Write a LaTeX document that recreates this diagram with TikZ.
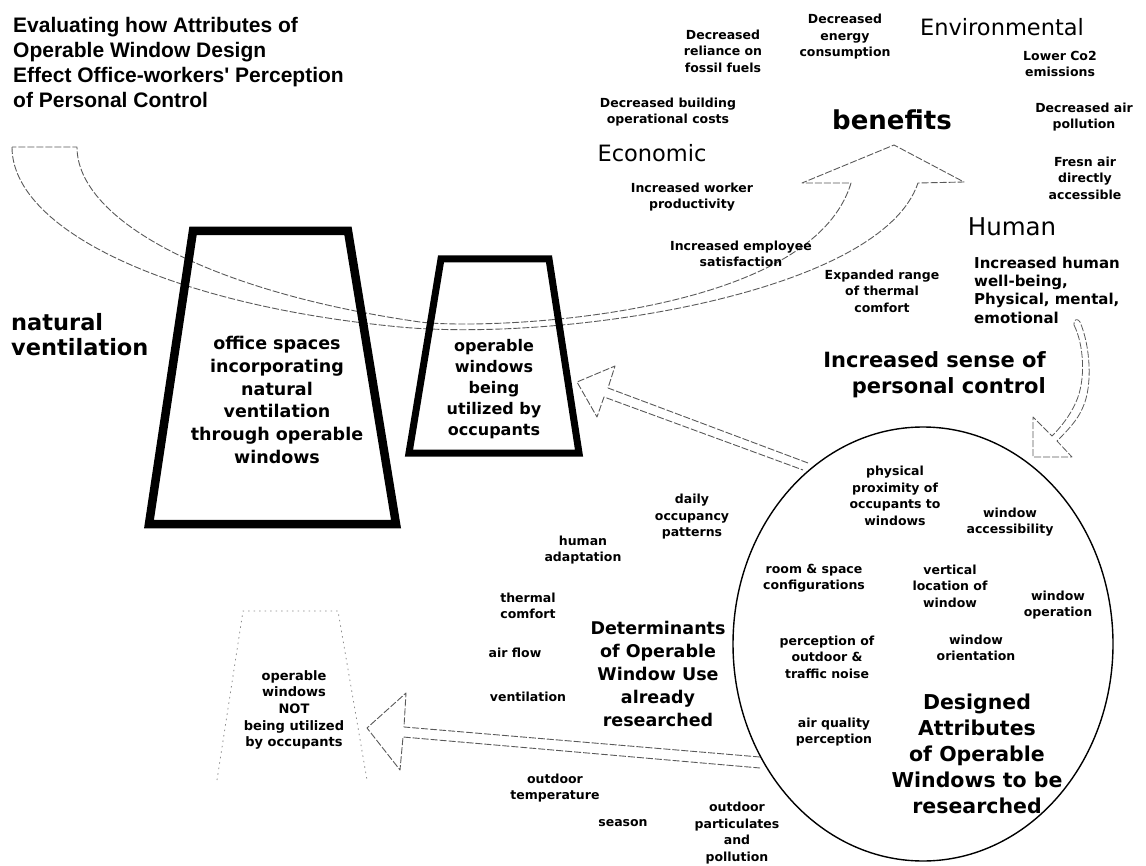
\documentclass[tikz,border=0pt]{standalone}
\usepackage{fontspec}
\usetikzlibrary{shapes.geometric}
\setmainfont{DejaVu Sans}
\newfontfamily\titlefont{Liberation Sans}
\begin{document}
\begin{tikzpicture}[x=1pt,y=-1pt,
  sm/.style={font=\bfseries\fontsize{12.5}{16.5}\selectfont, align=center, inner sep=0pt},
  hum/.style={font=\bfseries\fontsize{15}{18.3}\selectfont, align=left, inner sep=0pt},
  cat/.style={font=\fontsize{22.5}{26}\selectfont, inner sep=0pt},
  ben/.style={font=\bfseries\fontsize{26}{30}\selectfont, inner sep=0pt},
  sense/.style={font=\bfseries\fontsize{21}{26}\selectfont, align=right, inner sep=0pt},
  nv/.style={font=\bfseries\fontsize{22.5}{25}\selectfont, align=left, inner sep=0pt},
  boxa/.style={font=\bfseries\fontsize{17.5}{22.8}\selectfont, align=center, inner sep=0pt},
  boxb/.style={font=\bfseries\fontsize{16}{21}\selectfont, align=center, inner sep=0pt},
  boxc/.style={font=\bfseries\fontsize{13}{16.6}\selectfont, align=center, inner sep=0pt},
  det/.style={font=\bfseries\fontsize{17.5}{23}\selectfont, align=center, inner sep=0pt},
  des/.style={font=\bfseries\fontsize{20.5}{26}\selectfont, align=center, inner sep=0pt},
  ttl/.style={font=\titlefont\bfseries\fontsize{21}{25}\selectfont, align=left, inner sep=0pt},
  hollow/.style={draw=black!65, line width=0.9pt, dash pattern=on 7pt off 2pt, line join=round},
  thick box/.style={draw=black, line join=miter},
  faint/.style={draw=black!45, line width=0.8pt, dash pattern=on 1.5pt off 4pt}
]
\useasboundingbox (0,0) rectangle (1146,866);

% title
\node[ttl, anchor=north west] (title) at (13,17) {Evaluating how Attributes of\\Operable Window Design\\Effect Office-workers' Perception\\of Personal Control};

% big curved hollow arrow (natural ventilation -> benefits)
\coordinate (ntop1) at (12,147);
\coordinate (ntop2) at (77,147);
\coordinate (bhead) at (894,145);
\draw[hollow] (ntop1) .. controls (12,230) and (170,305) .. (400,327)
   .. controls (560,342) and (880,295) .. (918,183)
   -- (964,182) -- (bhead) -- (802,183) -- (851,183)
   .. controls (810,320) and (480,330) .. (420,322)
   .. controls (210,292) and (77,220) .. (ntop2) -- cycle;

% trapezoids
\draw[thick box, line width=8.5pt] (193,231) -- (348,231) -- (396,524) -- (149,524) -- cycle;
\coordinate (trapA) at (272,380);
\draw[thick box, line width=7pt] (441,259) -- (549,259) -- (579,453) -- (409,453) -- cycle;
\coordinate (trapB) at (494,356);
\draw[faint] (217,780) -- (243,611) -- (338,611) -- (367,780);
\coordinate (trapC) at (294,700);

% ellipse
\node[draw=black, line width=1.4pt, ellipse, minimum width=380pt, minimum height=434pt, inner sep=0pt] (ell) at (923,644) {};

% hollow arrow ellipse -> operable windows
\draw[hollow] (808,463) -- (608,388) -- (615,366) -- (577,382) -- (597,417) -- (604,397) -- (803,470);
% hollow arrow ellipse -> NOT utilized
\draw[hollow] (760,757) -- (404,727) -- (406,693) -- (367,728) -- (400,770) -- (403,737) -- (760,768);
% human -> ellipse arrow
\draw[hollow, line width=0.8pt] (1074,325) .. controls (1084,345) and (1086,380) .. (1076,402)
   .. controls (1070,416) and (1060,428) .. (1052,436)
   -- (1033,417) -- (1033,457) -- (1072,457) -- (1057,441)
   .. controls (1066,432) and (1078,420) .. (1083,407)
   .. controls (1093,385) and (1090,345) .. (1080,322)
   .. controls (1078,318) and (1073,319) .. (1074,325) -- cycle;

% benefits area
\node[ben] (benefits) at (892,120) {benefits};
\node[cat] (env) at (1002,27) {Environmental};
\node[cat] (eco) at (652,153) {Economic};
\node[cat, font=\fontsize{24.5}{28}\selectfont] (human) at (1012,227) {Human};
\node[sm] (b1) at (723,51) {Decreased\\reliance on\\fossil fuels};
\node[sm] (b2) at (845,37) {Decreased\\energy\\consumption};
\node[sm] (b3) at (1060,64) {Lower Co2\\emissions};
\node[sm] (b4) at (1084,117) {Decreased air\\pollution};
\node[sm] (b5) at (1085,178) {Fresn air\\directly\\accessible};
\node[sm] (b6) at (668,112) {Decreased building\\operational costs};
\node[sm] (b7) at (692,197) {Increased worker\\productivity};
\node[sm] (b8) at (741,254) {Increased employee\\satisfaction};
\node[sm] (b9) at (882,291) {Expanded range\\of thermal\\comfort};
\node[hum, anchor=west] (b10) at (974,290) {Increased human\\well-being,\\Physical, mental,\\emotional};
\node[sense, anchor=east] (sense) at (1046,375) {Increased sense of\\personal control};

% left side
\node[nv, anchor=west] (nv) at (11,335) {natural\\ventilation};
\node[boxa] (office) at (277,400) {office spaces\\incorporating\\natural\\ventilation\\through operable\\windows};
\node[boxb] (used) at (494,389) {operable\\windows\\being\\utilized by\\occupants};
\node[boxc] (notused) at (294,710) {operable\\windows\\NOT\\being utilized\\by occupants};

% determinants
\node[sm] (d1) at (692,517) {daily\\occupancy\\patterns};
\node[sm] (d2) at (583,550) {human\\adaptation};
\node[sm] (d3) at (528,606) {thermal\\comfort};
\node[sm] (d4) at (515,653) {air flow};
\node[sm] (d5) at (528,697) {ventilation};
\node[det] (det) at (658,674) {Determinants\\of Operable\\Window Use\\already\\researched};
\node[sm] (d6) at (555,788) {outdoor\\temperature};
\node[sm] (d7) at (623,823) {season};
\node[sm] (d8) at (737,833) {outdoor\\particulates\\and\\pollution};

% designed attributes
\node[sm] (a1) at (895,496) {physical\\proximity of\\occupants to\\windows};
\node[sm] (a2) at (1010,522) {window\\accessibility};
\node[sm] (a3) at (814,578) {room \& space\\configurations};
\node[sm] (a4) at (950,586) {vertical\\location of\\window};
\node[sm] (a5) at (1058,605) {window\\operation};
\node[sm] (a6) at (827,657) {perception of\\outdoor \&\\traffic noise};
\node[sm] (a7) at (976,648) {window\\orientation};
\node[sm] (a8) at (834,732) {air quality\\perception};
\node[des] (des) at (977,754) {Designed\\Attributes\\of Operable\\Windows to be\\researched};
\end{tikzpicture}
\end{document}
